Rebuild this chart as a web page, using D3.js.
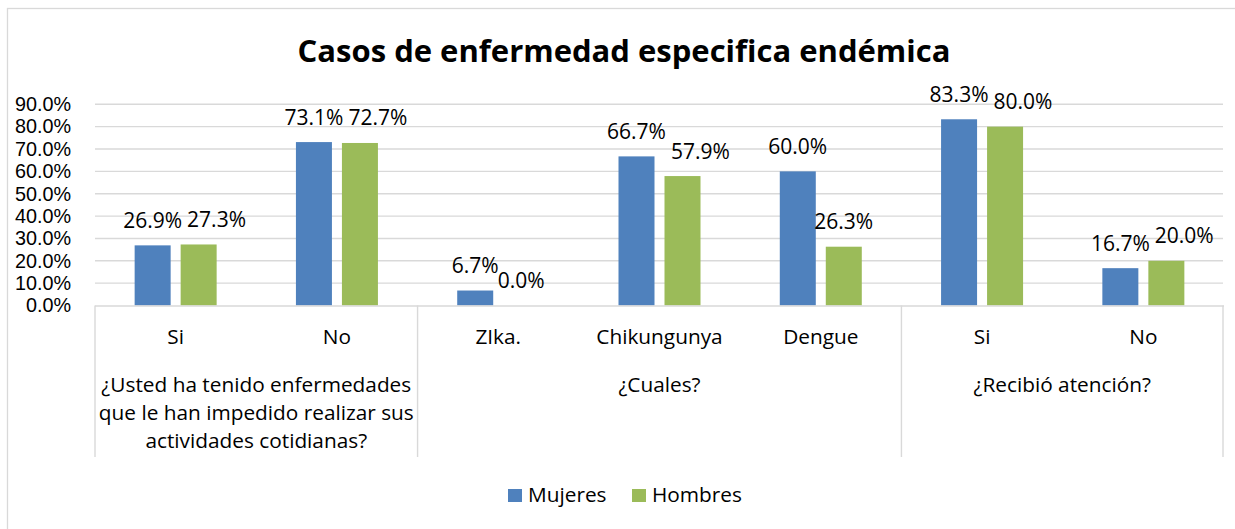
<!DOCTYPE html>
<html>
<head>
<meta charset="utf-8">
<script src="https://cdn.jsdelivr.net/npm/d3@7"></script>
<style>
  html, body { margin: 0; padding: 0; background: #fff; }
  svg { display: block; }
  text { font-family: "Open Sans", "Noto Sans", sans-serif; fill: #000; }
</style>
</head>
<body>
<svg id="chart" width="1235" height="529"></svg>
<script>
const title = "Casos de enfermedad especifica endémica";
const categories = ["Si", "No", "ZIka.", "Chikungunya", "Dengue", "Si", "No"];
const groupLabels = [
  ["¿Usted ha tenido enfermedades", "que le han impedido realizar sus", "actividades cotidianas?"],
  ["¿Cuales?"],
  ["¿Recibió atención?"]
];
const groupSizes = [2, 3, 2];
const seriesNames = ["Mujeres", "Hombres"];
const mujeres = [26.9, 73.1, 6.7, 66.7, 60.0, 83.3, 16.7];
const hombres = [27.3, 72.7, 0.0, 57.9, 26.3, 80.0, 20.0];
const yTicks = [0, 10, 20, 30, 40, 50, 60, 70, 80, 90];
const colors = ["#4f81bd", "#9bbb59"];

(function () {
const svg = d3.select("#chart");
const pLeft = 95, pRight = 1224, pTop = 104.3, pBottom = 305.5;
const gridColor = "#d9d9d9";
const fs = "20.8px";

// outer chart border (cropped at right/bottom)
svg.append("rect").attr("x", 7.5).attr("y", 8.5).attr("width", 1260).attr("height", 560)
  .attr("fill", "#fff").attr("stroke", gridColor).attr("stroke-width", 1.3);

// title
svg.append("text").attr("x", 624).attr("y", 62).attr("text-anchor", "middle")
  .style("font-weight", "bold").style("font-size", "31px").text(title);

const y = d3.scaleLinear().domain([0, 90]).range([pBottom, pTop]);
const x0 = d3.scaleBand().domain(d3.range(categories.length)).range([pLeft, pRight]).padding(0);
const bw = x0.bandwidth();
const x1 = d3.scaleBand().domain([0, 1]).range([bw / 2 - 41, bw / 2 + 41]).paddingInner(10 / 46).paddingOuter(0);

// gridlines
svg.append("g").selectAll("line").data(yTicks.filter(t => t > 0)).join("line")
  .attr("x1", pLeft).attr("x2", pRight - 1)
  .attr("y1", d => y(d)).attr("y2", d => y(d))
  .attr("stroke", gridColor).attr("stroke-width", 1.4);

// y axis labels
const yAxis = d3.axisLeft(y).tickValues(yTicks).tickFormat(d => d.toFixed(1) + "%").tickSize(0).tickPadding(0);
const yg = svg.append("g").attr("transform", `translate(71,0)`).call(yAxis);
yg.select(".domain").remove();
yg.selectAll("text").style("font-size", "19.8px").attr("fill", "#000")
  .style("font-family", "'Liberation Sans', Arial, sans-serif");

// bars
const series = [mujeres, hombres];
const bars = svg.append("g");
series.forEach((vals, s) => {
  bars.selectAll(null).data(vals).join("rect")
    .attr("x", (d, i) => x0(i) + x1(s))
    .attr("width", x1.bandwidth())
    .attr("y", d => y(d))
    .attr("height", d => y(0) - y(d))
    .attr("fill", colors[s]);
});

// baseline axis and category separators
svg.append("line").attr("x1", pLeft).attr("x2", pRight).attr("y1", pBottom + 0.5).attr("y2", pBottom + 0.5)
  .attr("stroke", gridColor).attr("stroke-width", 1.4);

let acc = 0;
const bounds = [0];
groupSizes.forEach(n => { acc += n; bounds.push(acc); });
const bx = d => d >= categories.length ? pRight - 1 : x0(d);
svg.append("g").selectAll("line").data(bounds).join("line")
  .attr("x1", bx).attr("x2", bx)
  .attr("y1", pBottom).attr("y2", 457)
  .attr("stroke", gridColor).attr("stroke-width", 1.4);

// category labels
svg.append("g").selectAll("text").data(categories).join("text")
  .attr("x", (d, i) => x0(i) + bw / 2).attr("y", 344)
  .attr("text-anchor", "middle").style("font-size", fs).text(d => d);

// group labels
groupLabels.forEach((lines, g) => {
  const cx = (bx(bounds[g]) + bx(bounds[g + 1])) / 2;
  lines.forEach((ln, k) => {
    svg.append("text").attr("x", cx).attr("y", 391.5 + k * 28.3)
      .attr("text-anchor", "middle").style("font-size", fs).text(ln);
  });
});

// data labels with simple overlap avoidance
const labelG = svg.append("g");
categories.forEach((c, i) => {
  const items = series.map((vals, s) => {
    const t = labelG.append("text")
      .attr("text-anchor", "middle").style("font-size", "21px")
      .text(vals[i].toFixed(1) + "%");
    const cx = x0(i) + x1(s) + x1.bandwidth() / 2;
    const by = y(vals[i]) - 17.5;
    return { t, cx, by, w: t.node().getComputedTextLength() };
  });
  const a = items[0], b = items[1];
  const vOverlap = Math.abs(a.by - b.by) < 24;
  const aRight = a.cx + a.w / 2;
  const bLeft = b.cx - b.w / 2;
  if (vOverlap && bLeft < aRight - 1) {
    b.cx += (aRight + 5) - bLeft;
  }
  items.forEach(it => it.t.attr("x", it.cx).attr("y", it.by));
});

// legend
const legend = svg.append("g");
const legendX = [508, 632];
seriesNames.forEach((n, s) => {
  legend.append("rect").attr("x", legendX[s]).attr("y", 489).attr("width", 14).attr("height", 13).attr("fill", colors[s]);
  legend.append("text").attr("x", legendX[s] + 20).attr("y", 502).style("font-size", fs).text(n);
});
})();
</script>
</body>
</html>
